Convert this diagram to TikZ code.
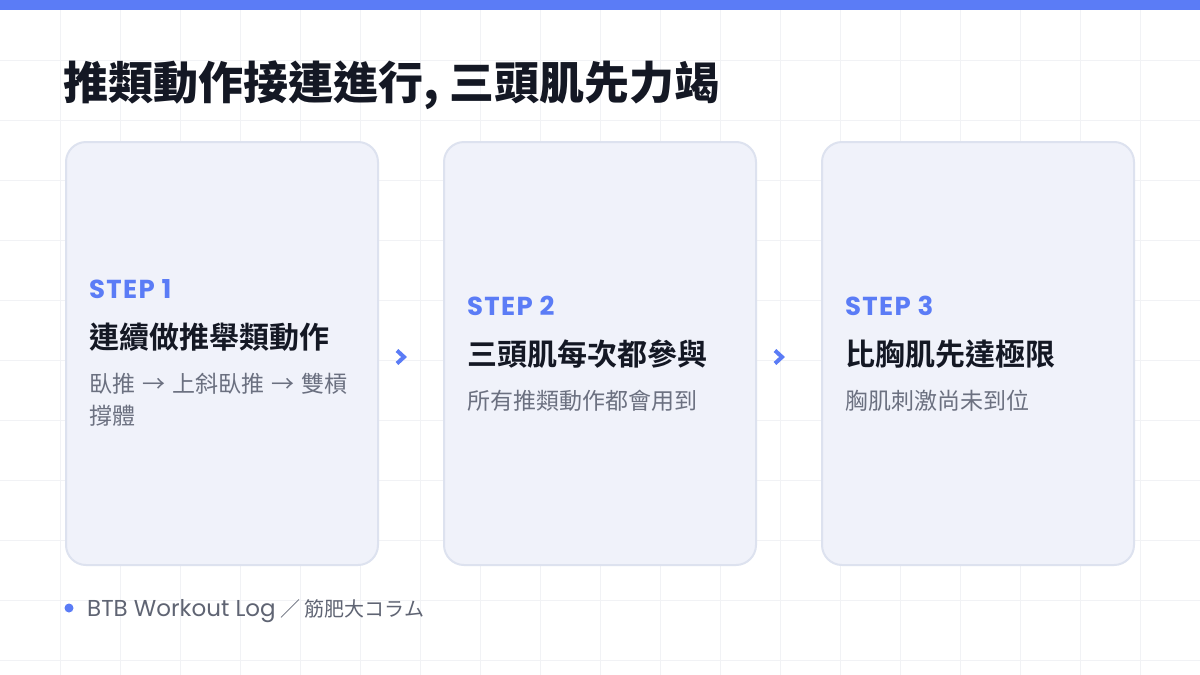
\documentclass[tikz,border=0pt]{standalone}
\usepackage{fontspec}
\setmainfont{Noto Sans CJK TC}
\newfontfamily\cjk{Noto Sans CJK TC}
\newfontfamily\cjkblack{Noto Sans CJK TC}[UprightFont={* Black}]
\newfontfamily\cjkbold{Noto Sans CJK TC}[UprightFont={* Bold}]
\newfontfamily\poppins{Poppins}
\newfontfamily\poppinswide{Poppins}[LetterSpace=5]
\newcommand{\arrowgap}{\hspace{2pt}→\hspace{2pt}}
\definecolor{stepblue}{HTML}{5B7CF6}
\definecolor{cardfill}{HTML}{F0F2FA}
\definecolor{cardline}{HTML}{DDE2EF}
\definecolor{inkdark}{HTML}{141824}
\definecolor{descgray}{HTML}{6B7080}
\definecolor{footgray}{HTML}{5F6473}
\definecolor{gridgray}{HTML}{F1F2F5}
\begin{document}
\begin{tikzpicture}[x=1pt, y=-1pt,
    card/.style={draw=cardline, line width=2pt, fill=cardfill, rounded corners=20pt,
        minimum width=312pt, minimum height=423pt, inner sep=0pt},
    steplabel/.style={anchor=west, inner sep=0pt, text=stepblue, font={\poppinswide\bfseries\fontsize{26}{28}\selectfont}},
    cardtitle/.style={anchor=west, inner sep=0pt, text=inkdark, font={\cjkbold\fontsize{30}{36}\selectfont}},
    carddesc/.style={anchor=north west, inner sep=0pt, text=descgray, align=left,
        font={\cjk\fontsize{23}{32}\selectfont}},
    chev/.style={draw=stepblue, line width=4pt, miter limit=10},
    gridline/.style={draw=gridgray, line width=0.8pt}]
    \useasboundingbox (0,0) rectangle (1200,675);
    \fill[white] (0,0) rectangle (1200,675);
    %background grid, 60px apart
    \foreach \gx in {60,120,...,1140} \draw[gridline] (\gx,0) -- (\gx,675);
    \foreach \gy in {60,120,...,660} \draw[gridline] (0,\gy) -- (1200,\gy);
    \fill[stepblue] (0,0) rectangle (1200,10);

    \node[anchor=west, inner sep=0pt, text=inkdark, font={\cjkblack\fontsize{45}{50}\selectfont}]
        (headline) at (63,85) {推類動作接連進行, 三頭肌先力竭};

    \node[card] (card1) at (222,353.5) {};
    \node[card] (card2) at (600,353.5) {};
    \node[card] (card3) at (978,353.5) {};

    \node[steplabel] (step1) at (89,289.5) {STEP 1};
    \node[cardtitle] (title1) at (89,337.5) {連續做推舉類動作};
    \node[carddesc] (desc1) at (89,373) {臥推 \arrowgap{} 上斜臥推 \arrowgap{} 雙槓\\撐體};

    \node[steplabel] (step2) at (467,306) {STEP 2};
    \node[cardtitle] (title2) at (467,354) {三頭肌每次都參與};
    \node[carddesc] (desc2) at (467,390) {所有推類動作都會用到};

    \node[steplabel] (step3) at (845,306) {STEP 3};
    \node[cardtitle] (title3) at (845,354) {比胸肌先達極限};
    \node[carddesc] (desc3) at (845,390) {胸肌刺激尚未到位};

    \coordinate (gap1) at (401,357);
    \coordinate (gap2) at (779,357);
    \draw[chev] ([xshift=-4pt,yshift=6.5pt]gap1) -- ([xshift=3pt]gap1) -- ([xshift=-4pt,yshift=-6.5pt]gap1);
    \draw[chev] ([xshift=-4pt,yshift=6.5pt]gap2) -- ([xshift=3pt]gap2) -- ([xshift=-4pt,yshift=-6.5pt]gap2);

    \fill[stepblue] (69,608) circle (4.5);
    \node[anchor=base west, inner sep=0pt, text=footgray, font={\cjk\fontsize{20}{24}\selectfont}]
        (source) at (87,616) {{\poppins\fontsize{23}{24}\selectfont BTB Workout Log} ／ 筋肥大コラム};
\end{tikzpicture}
\end{document}
